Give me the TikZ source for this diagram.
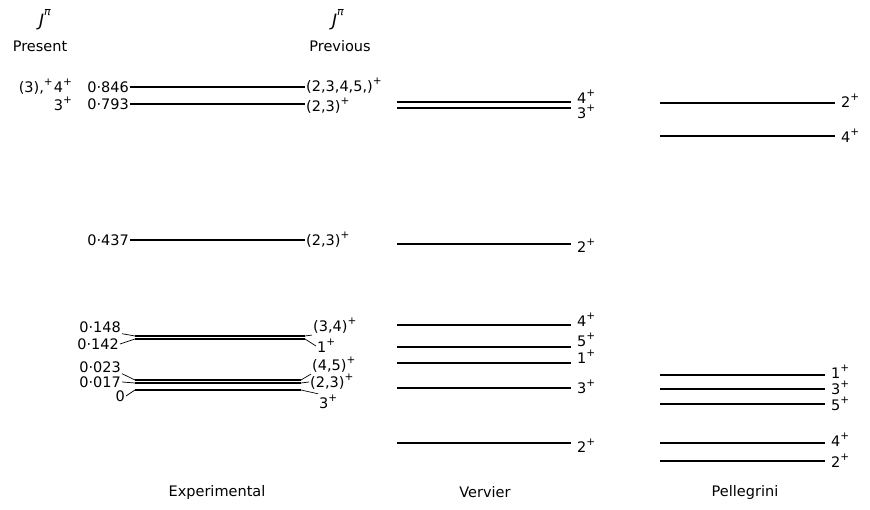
\documentclass[tikz,border=0pt]{standalone}
\usepackage{fontspec}
\setmainfont{DejaVu Sans}
\newcommand{\Pls}{\raisebox{0.5em}{\fontsize{10.5}{11}\selectfont +}}
\newcommand{\Jpi}{{\fontsize{17}{17}\selectfont\itshape J}\raisebox{0.75em}{\fontsize{11}{11}\selectfont\itshape π}}
\begin{document}
\begin{tikzpicture}[x=1pt,y=-1pt,
  lvl/.style={line width=1.1pt},
  lab/.style={font=\fontsize{14.5}{15}\selectfont, inner sep=1pt},
  tick/.style={line width=0.7pt}]
\useasboundingbox (0,0) rectangle (870,510);

% ---------- Experimental levels ----------
\foreach \n/\y/\a/\b in {e846/87/130/305, e793/104/130/305, e437/240/130/305,
   e148/336/135/305, e142/339/135/305, e023/380/135/301, e017/383/135/301, e000/390/135/301}{
  \coordinate (\n-L) at (\a,\y);
  \coordinate (\n-R) at (\b,\y);
  \draw[lvl] (\n-L) -- (\n-R);
}
% energies
\node[lab, anchor=east] (t846) at (e846-L) {0·846};
\node[lab, anchor=east] (t793) at (e793-L) {0·793};
\node[lab, anchor=east] (t437) at (e437-L) {0·437};
\node[lab, anchor=east] (t148) at (122,327) {0·148};
\node[lab, anchor=east] (t142) at (120,344) {0·142};
\node[lab, anchor=east] (t023) at (122,367) {0·023};
\node[lab, anchor=east] (t017) at (122,382) {0·017};
\node[lab, anchor=east] (t000) at (126,396) {0};
\draw[tick] (t148.south east) -- (e148-L);
\draw[tick] (t142.east) -- (e142-L);
\draw[tick] (t023.south east) -- (e023-L);
\draw[tick] (t017.east) -- (e017-L);
\draw[tick] (t000.east) -- (e000-L);
% previous J
\node[lab, anchor=west] (r846) at ([yshift=1.5pt]e846-R) {(2,3,4,5,)\Pls};
\node[lab, anchor=west] (r793) at ([yshift=-2pt]e793-R) {(2,3)\Pls};
\node[lab, anchor=west] (r437) at (e437-R) {(2,3)\Pls};
\node[lab, anchor=west] (r148) at (312,326) {(3,4)\Pls};
\node[lab, anchor=west] (r142) at (316,346) {1\Pls};
\node[lab, anchor=west] (r023) at (311,365) {(4,5)\Pls};
\node[lab, anchor=west] (r017) at (309,382) {(2,3)\Pls};
\node[lab, anchor=west] (r000) at (318,402) {3\Pls};
\draw[tick] (e148-R) -- (r148.south west);
\draw[tick] (e142-R) -- (r142.west);
\draw[tick] (e023-R) -- (r023.south west);
\draw[tick] (e017-R) -- (r017.west);
\draw[tick] (e000-R) -- (r000.north west);
% present J
\node[lab, anchor=east] (p846) at (73,87) {(3),\Pls\kern1pt4\Pls};
\node[lab, anchor=east] (p793) at (73,104) {3\Pls};

% headers
\node[lab] (jpres) at (45,20) {\Jpi};
\node[lab] (hpres) at (40,46) {Present};
\node[lab] (jprev) at (338,20) {\Jpi};
\node[lab] (hprev) at (340,46) {Previous};

% ---------- Vervier ----------
\foreach \n/\y in {v1/102, v2/108, v3/244, v4/325, v5/347, v6/363, v7/388, v8/443}{
  \coordinate (\n-L) at (397,\y);
  \coordinate (\n-R) at (571,\y);
  \draw[lvl] (\n-L) -- (\n-R);
}
\node[lab, anchor=west] (lv1) at (576,97) {4\Pls};
\node[lab, anchor=west] (lv2) at (576,112) {3\Pls};
\node[lab, anchor=west] (lv3) at (576,246) {2\Pls};
\node[lab, anchor=west] (lv4) at (576,320) {4\Pls};
\node[lab, anchor=west] (lv5) at (576,340) {5\Pls};
\node[lab, anchor=west] (lv6) at (576,357) {1\Pls};
\node[lab, anchor=west] (lv7) at (576,387) {3\Pls};
\node[lab, anchor=west] (lv8) at (576,446) {2\Pls};

% ---------- Pellegrini ----------
\foreach \n/\y/\b in {g1/103/835, g2/136/835, g3/375/825, g4/389/825, g5/404/825, g6/443/825, g7/461/825}{
  \coordinate (\n-L) at (660,\y);
  \coordinate (\n-R) at (\b,\y);
  \draw[lvl] (\n-L) -- (\n-R);
}
\node[lab, anchor=west] (lg1) at (840,101) {2\Pls};
\node[lab, anchor=west] (lg2) at (840,136) {4\Pls};
\node[lab, anchor=west] (lg3) at (830,372) {1\Pls};
\node[lab, anchor=west] (lg4) at (830,388) {3\Pls};
\node[lab, anchor=west] (lg5) at (830,404) {5\Pls};
\node[lab, anchor=west] (lg6) at (830,440) {4\Pls};
\node[lab, anchor=west] (lg7) at (830,461) {2\Pls};

% ---------- column titles ----------
\node[lab] (cexp) at (217,492) {Experimental};
\node[lab] (cver) at (485,492) {Vervier};
\node[lab] (cpel) at (745,492) {Pellegrini};
\end{tikzpicture}
\end{document}
